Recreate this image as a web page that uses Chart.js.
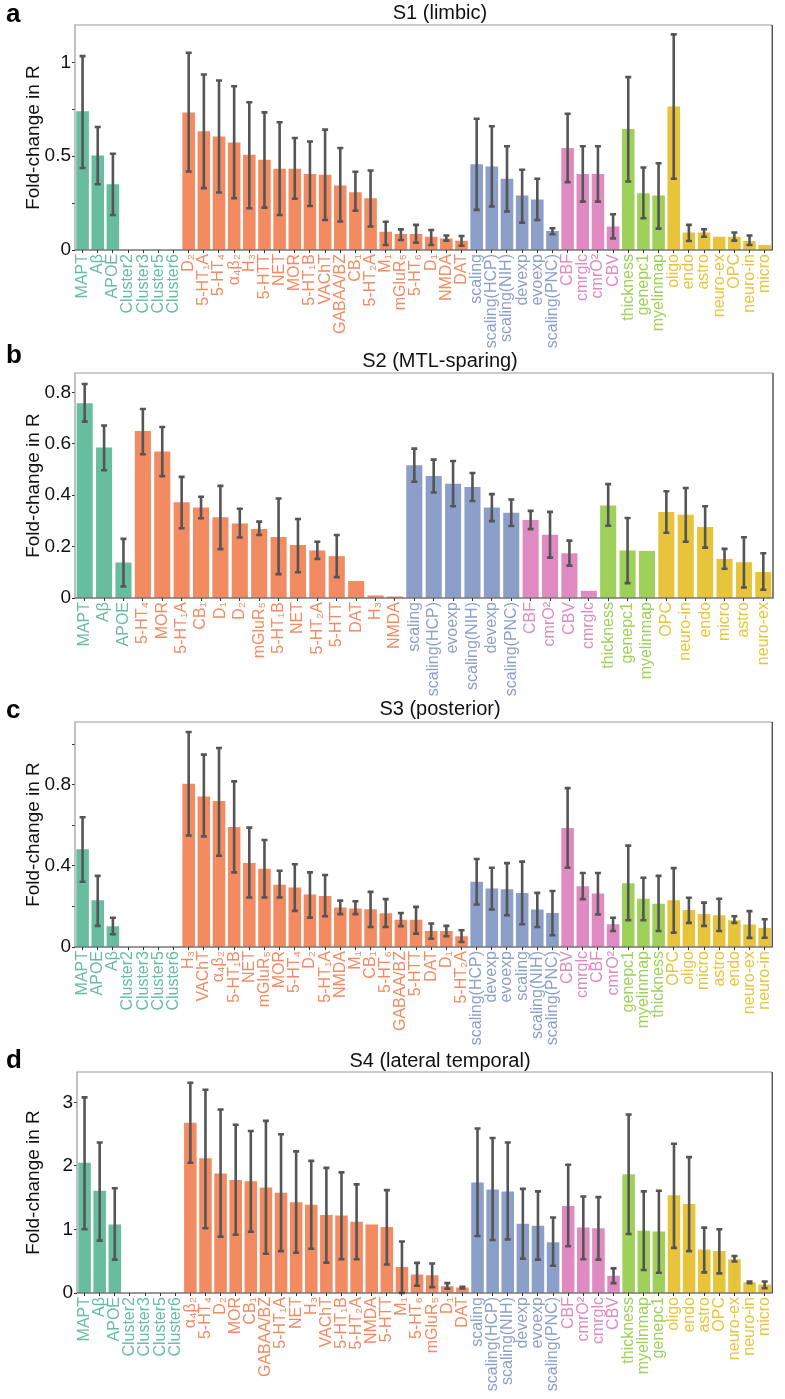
<!DOCTYPE html>
<html>
<head>
<meta charset="utf-8">
<script src="https://cdn.jsdelivr.net/npm/chart.js@4.4.1/dist/chart.umd.min.js"></script>
<style>
  body { margin: 0; background: #fff; }
  #page { position: relative; width: 785px; height: 1399px; overflow: hidden; background: #fff; }
  canvas { position: absolute; left: 0; }
  .title { position: absolute; left: 240px; width: 400px; text-align: center; font: 20px/20px "Liberation Sans", Arial, sans-serif; color: #111; }
  .letter { position: absolute; left: 6px; font: bold 26px/26px "Liberation Sans", Arial, sans-serif; color: #000; }
</style>
</head>
<body>
<div id="page">
  <canvas id="s1" width="785" height="348" style="top:0px"></canvas>
  <canvas id="s2" width="785" height="349" style="top:348px"></canvas>
  <canvas id="s3" width="785" height="350" style="top:697px"></canvas>
  <canvas id="s4" width="785" height="352" style="top:1047px"></canvas>
  <div class="letter" style="top:0px">a</div>
  <div class="letter" style="top:341px">b</div>
  <div class="letter" style="top:696px">c</div>
  <div class="letter" style="top:1046px">d</div>
  <div class="title" style="top:2px">S1 (limbic)</div>
  <div class="title" style="top:350px">S2 (MTL-sparing)</div>
  <div class="title" style="top:698px">S3 (posterior)</div>
  <div class="title" style="top:1050px">S4 (lateral temporal)</div>
</div>
<script>
// group colours: pathology, receptors, scaling/expansion, metabolism, structure, cell types
const groupColors = ["#68bd9e", "#f28b62", "#8c9fc9", "#e08ac2", "#9fd05a", "#e8c43c"];

// ---- S1 (limbic)
const s1Labels = ["MAPT","Aβ","APOE","Cluster2","Cluster3","Cluster5","Cluster6",
  "D₂","5-HT₁A","5-HT₄","α₄β₂","H₃","5-HTT","NET","MOR","5-HT₁B","VAChT","GABAA/BZ","CB₁","5-HT₂A","M₁","mGluR₅","5-HT₆","D₁","NMDA","DAT",
  "scaling","scaling(HCP)","scaling(NIH)","devexp","evoexp","scaling(PNC)",
  "CBF","cmrglc","cmrO²","CBV","thickness","genepc1","myelinmap",
  "oligo","endo","astro","neuro-ex","OPC","neuro-in","micro"];
const s1Groups = [7, 19, 6, 4, 3, 7];
const s1Values = [0.74,0.504,0.351,null,null,null,null,
  0.734,0.633,0.606,0.574,0.508,0.481,0.433,0.433,0.405,0.401,0.344,0.308,0.276,0.098,0.086,0.086,0.071,0.062,0.05,
  0.458,0.446,0.38,0.291,0.269,0.102,
  0.544,0.406,0.406,0.125,0.645,0.303,0.291,
  0.766,0.093,0.093,0.071,0.071,0.048,0.027];
const s1Lo = [0.437,0.351,0.187,null,null,null,null,
  0.419,0.330,0.307,0.276,0.223,0.226,0.187,0.273,0.235,0.160,0.152,0.209,0.125,0.027,0.053,0.039,0.027,0.05,0.023,
  0.214,0.232,0.205,0.146,0.16,0.084,
  0.362,0.258,0.258,0.062,0.365,0.169,0.114,
  0.38,0.048,0.071,null,0.05,0.027,null];
const s1Hi = [1.034,0.656,0.513,null,null,null,null,
  1.052,0.936,0.904,0.873,0.788,0.734,0.681,0.597,0.579,0.642,0.544,0.417,0.424,0.151,0.11,0.134,0.107,0.077,0.075,
  0.70,0.66,0.553,0.428,0.38,0.116,
  0.727,0.553,0.553,0.191,0.922,0.44,0.463,
  1.15,0.134,0.111,null,0.093,0.077,null];
const s1YTicks = [0, 0.5, 1];

// ---- S2 (MTL-sparing)
const s2Labels = ["MAPT","Aβ","APOE",
  "5-HT₄","MOR","5-HT₁A","CB₁","D₁","D₂","mGluR₅","5-HT₁B","NET","5-HT₂A","5-HTT","DAT","H₃","NMDA",
  "scaling","scaling(HCP)","evoexp","scaling(NIH)","devexp","scaling(PNC)",
  "CBF","cmrO²","CBV","cmrglc","thickness","genepc1","myelinmap",
  "OPC","neuro-in","endo","micro","astro","neuro-ex"];
const s2Groups = [3, 14, 6, 4, 3, 6];
const s2Values = [0.757,0.585,0.138,
  0.649,0.57,0.372,0.352,0.314,0.29,0.268,0.237,0.206,0.185,0.163,0.066,0.01,0.006,
  0.516,0.474,0.444,0.432,0.352,0.332,
  0.303,0.246,0.174,0.028,0.36,0.185,0.183,
  0.334,0.324,0.276,0.152,0.139,0.101];
const s2Lo = [0.686,0.497,0.045,
  0.559,0.474,0.271,0.31,0.19,0.235,0.245,0.093,0.1,0.152,0.081,null,null,null,
  0.452,0.41,0.357,0.377,0.299,0.28,
  0.268,0.157,0.126,null,0.281,0.058,null,
  0.254,0.219,0.196,0.114,0.041,0.032];
const s2Hi = [0.832,0.671,0.23,
  0.735,0.665,0.471,0.394,0.436,0.347,0.297,0.387,0.307,0.219,0.245,null,null,null,
  0.581,0.538,0.533,0.486,0.404,0.383,
  0.339,0.335,0.223,null,0.443,0.311,null,
  0.415,0.428,0.357,0.191,0.236,0.174];
const s2YTicks = [0, 0.2, 0.4, 0.6, 0.8];

// ---- S3 (posterior)
const s3Labels = ["MAPT","APOE","Aβ","Cluster2","Cluster3","Cluster5","Cluster6",
  "H₃","VAChT","α₄β₂","5-HT₁B","NET","mGluR₅","MOR","5-HT₄","D₂","5-HT₁A","NMDA","M₁","CB₁","5-HT₆","GABAA/BZ","5-HTT","DAT","D₁","5-HT₂A",
  "scaling(HCP)","devexp","evoexp","scaling","scaling(NIH)","scaling(PNC)",
  "CBV","cmrglc","CBF","cmrO²","genepc1","myelinmap","thickness",
  "OPC","oligo","micro","astro","endo","neuro-ex","neuro-in"];
const s3Groups = [7, 19, 6, 4, 3, 7];
const s3Values = [0.482,0.231,0.102,null,null,null,null,
  0.805,0.743,0.72,0.592,0.414,0.386,0.307,0.294,0.259,0.251,0.195,0.19,0.186,0.167,0.135,0.134,0.079,0.079,0.053,
  0.322,0.289,0.285,0.267,0.185,0.168,
  0.587,0.30,0.264,0.112,0.315,0.238,0.213,
  0.231,0.182,0.163,0.157,0.132,0.111,0.094];
const s3Lo = [0.322,0.104,0.063,null,null,null,null,
  0.55,0.545,0.45,0.368,0.244,0.244,0.244,0.178,0.145,0.152,0.162,0.162,0.099,0.099,0.103,0.066,0.041,0.053,0.025,
  0.21,0.185,0.157,0.112,0.099,0.058,
  0.391,0.236,0.16,0.079,0.132,0.132,0.079,
  0.071,0.119,0.104,0.079,0.119,0.045,0.046];
const s3Hi = [0.64,0.351,0.144,null,null,null,null,
  1.061,0.949,0.982,0.817,0.589,0.528,0.376,0.408,0.368,0.355,0.229,0.226,0.272,0.236,0.168,0.198,0.116,0.104,0.083,
  0.434,0.391,0.414,0.421,0.267,0.276,
  0.784,0.365,0.365,0.144,0.5,0.342,0.351,
  0.389,0.243,0.219,0.238,0.152,0.177,0.137];
const s3YTicks = [0, 0.4, 0.8];

// ---- S4 (lateral temporal)
const s4Labels = ["MAPT","Aβ","APOE","Cluster2","Cluster3","Cluster5","Cluster6",
  "α₄β₂","5-HT₄","D₂","MOR","CB₁","GABAA/BZ","5-HT₁A","NET","H₃","VAChT","5-HT₁B","5-HT₂A","NMDA","5-HTT","M₁","5-HT₆","mGluR₅","D₁","DAT",
  "scaling","scaling(HCP)","scaling(NIH)","devexp","evoexp","scaling(PNC)",
  "CBF","cmrO²","cmrglc","CBV","thickness","myelinmap","genepc1",
  "oligo","endo","astro","OPC","neuro-ex","neuro-in","micro"];
const s4Groups = [7, 19, 6, 4, 3, 7];
const s4Values = [2.05,1.61,1.08,null,null,null,null,
  2.68,2.12,1.88,1.78,1.76,1.66,1.58,1.43,1.39,1.23,1.22,1.12,1.08,1.04,0.41,0.29,0.28,0.108,0.088,
  1.74,1.63,1.6,1.09,1.06,0.80,
  1.37,1.03,1.02,0.273,1.87,0.979,0.969,
  1.54,1.40,0.686,0.66,0.531,0.17,0.134];
const s4Lo = [1.005,0.825,0.526,null,null,null,null,
  2.05,1.02,0.887,0.918,0.964,0.619,0.66,0.634,0.696,0.479,0.531,0.531,null,0.448,0.0,0.113,0.093,0.067,0.072,
  0.897,0.835,0.845,0.541,0.526,0.428,
  0.737,0.531,0.526,0.155,0.928,0.361,0.32,
  0.711,0.66,0.325,0.309,0.495,0.155,0.077];
const s4Hi = [3.08,2.37,1.65,null,null,null,null,
  3.31,3.2,2.89,2.65,2.55,2.71,2.5,2.23,2.08,1.97,1.9,1.71,null,1.62,0.81,0.474,0.464,0.155,0.098,
  2.59,2.44,2.37,1.64,1.6,1.19,
  2.02,1.52,1.51,0.387,2.81,1.6,1.61,
  2.35,2.14,1.03,1.005,0.582,0.18,0.18];
const s4YTicks = [0, 1, 2, 3];

const FONT = '"Liberation Sans", Arial, sans-serif';

function coloursFor(groups){
  const out = [];
  groups.forEach((n, g) => { for(let i = 0; i < n; i++) out.push(groupColors[g]); });
  return out;
}

const errorBars = {
  id: "errorBars",
  afterDatasetsDraw(chart){
    const ds = chart.data.datasets[0];
    const meta = chart.getDatasetMeta(0);
    const y = chart.scales.y;
    const ctx = chart.ctx;
    ctx.save();
    ctx.strokeStyle = "#555";
    ctx.lineWidth = 2.6;
    ds.errLo.forEach((lo, i) => {
      const hi = ds.errHi[i];
      if(lo == null || hi == null) return;
      const x = meta.data[i].x;
      const y1 = y.getPixelForValue(lo), y2 = y.getPixelForValue(hi);
      ctx.beginPath();
      ctx.moveTo(x, y1); ctx.lineTo(x, y2);
      ctx.moveTo(x - 3, y1); ctx.lineTo(x + 3, y1);
      ctx.moveTo(x - 3, y2); ctx.lineTo(x + 3, y2);
      ctx.stroke();
    });
    ctx.restore();
  }
};

const frame = {
  id: "frame",
  afterDraw(chart){
    const {ctx, chartArea: a} = chart;
    ctx.save();
    ctx.lineWidth = 1.2;
    ctx.strokeStyle = "#999";
    ctx.beginPath();
    ctx.moveTo(a.left, a.bottom); ctx.lineTo(a.left, a.top); ctx.lineTo(a.right, a.top);
    ctx.stroke();
    ctx.strokeStyle = "#333";
    ctx.beginPath();
    ctx.moveTo(a.right, a.top); ctx.lineTo(a.right, a.bottom); ctx.lineTo(a.left, a.bottom);
    ctx.stroke();
    ctx.restore();
  }
};

function panel(id, labels, groups, values, lo, hi, yMax, yStep, yTicks, xHeight, yWidth){
  const colours = coloursFor(groups);
  new Chart(document.getElementById(id), {
    type: "bar",
    data: {
      labels: labels,
      datasets: [{data: values, backgroundColor: colours, borderWidth: 0,
        categoryPercentage: 1, barPercentage: 0.83, errLo: lo, errHi: hi}]
    },
    options: {
      responsive: false,
      animation: false,
      devicePixelRatio: 1,
      layout: {padding: {top: 25, right: 12, left: 0, bottom: 0}},
      plugins: {legend: {display: false}, tooltip: {enabled: false}},
      scales: {
        x: {
          grid: {display: true, drawOnChartArea: false, drawTicks: true, tickLength: 3, color: "#333", offset: false},
          border: {display: false},
          ticks: {autoSkip: false, minRotation: 90, maxRotation: 90, padding: 1,
            font: {family: FONT, size: 16}, color: c => colours[c.index]},
          afterFit: s => { s.height = xHeight; }
        },
        y: {
          min: 0, max: yMax,
          grid: {display: true, drawOnChartArea: false, drawTicks: true, tickLength: 3, color: "#333"},
          border: {display: false},
          ticks: {stepSize: yStep, includeBounds: false, padding: 1, color: "#111",
            font: {family: FONT, size: 19},
            callback: v => yTicks.some(t => Math.abs(t - v) < 1e-6) ? String(Number(v.toFixed(2))) : ""},
          title: {display: true, text: "Fold-change in R", color: "#111",
            font: {family: FONT, size: 19}, padding: {top: 22, bottom: 0}},
          afterFit: s => { s.width = yWidth; }
        }
      }
    },
    plugins: [errorBars, frame]
  });
}

panel("s1", s1Labels, s1Groups, s1Values, s1Lo, s1Hi, 1.2, 0.25, s1YTicks, 98, 75);
panel("s2", s2Labels, s2Groups, s2Values, s2Lo, s2Hi, 0.875, 0.2, s2YTicks, 99, 75);
panel("s3", s3Labels, s3Groups, s3Values, s3Lo, s3Hi, 1.11, 0.2, s3YTicks, 100, 75);
panel("s4", s4Labels, s4Groups, s4Values, s4Lo, s4Hi, 3.48, 1, s4YTicks, 106, 77);
</script>
</body>
</html>
